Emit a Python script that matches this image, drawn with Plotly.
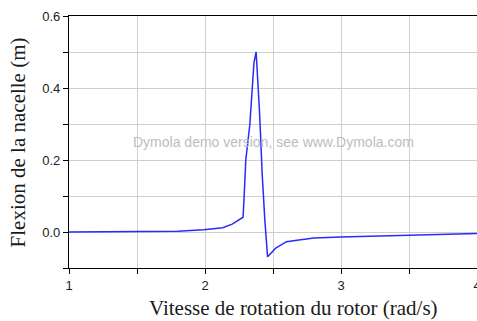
import plotly.graph_objects as go

# Rotor speed (rad/s) and nacelle deflection (m)
vitesse = [1.0, 1.5, 1.8, 1.99, 2.13, 2.2, 2.28, 2.29, 2.30, 2.33, 2.35, 2.36, 2.376,
           2.39, 2.40, 2.41, 2.42, 2.44, 2.46, 2.52, 2.60, 2.69, 2.8, 3.0, 3.1, 3.3,
           3.53, 3.8, 4.0]
flexion = [0.0, 0.0, 0.002, 0.006, 0.012, 0.022, 0.041, 0.117, 0.20, 0.30, 0.42, 0.47, 0.50,
           0.42, 0.34, 0.256, 0.164, 0.033, -0.069, -0.045, -0.027, -0.022, -0.017, -0.014,
           -0.013, -0.010, -0.0075, -0.005, -0.004]

x_ticks = [1, 1.5, 2, 2.5, 3, 3.5, 4]
x_labels = ["1", "", "2", "", "3", "", "4"]
y_ticks = [-0.1, 0.0, 0.1, 0.2, 0.3, 0.4, 0.5, 0.6]
y_labels = ["", "0.0", "", "0.2", "", "0.4", "", "0.6"]

fig = go.Figure()
fig.add_trace(go.Scatter(
    x=vitesse, y=flexion, mode="lines",
    line=dict(color="#2a2aff", width=1.5),
    showlegend=False, hoverinfo="skip",
))

grid = "#cfcfcf"
tick_font = dict(family="Liberation Sans, Arial, sans-serif", size=13, color="#222222")
title_font = dict(family="Liberation Serif, Times New Roman, serif", size=21, color="#1a1a1a")

fig.update_xaxes(
    range=[1, 4], tickmode="array", tickvals=x_ticks, ticktext=x_labels,
    showgrid=True, gridcolor=grid, gridwidth=1,
    showline=True, linecolor="black", linewidth=1.2, mirror=True,
    ticks="outside", ticklen=5, tickcolor="black", tickfont=tick_font,
    ticklabeloverflow="allow", automargin=False,
    zeroline=False,
)
fig.update_yaxes(
    range=[-0.1, 0.6], tickmode="array", tickvals=y_ticks, ticktext=y_labels,
    showgrid=True, gridcolor=grid, gridwidth=1,
    showline=True, linecolor="black", linewidth=1.2,
    ticks="outside", ticklen=5, tickcolor="black", tickfont=tick_font,
    automargin=False, zeroline=False,
)

# Axis titles
fig.add_annotation(
    text="Vitesse de rotation du rotor (rad/s)",
    xref="paper", yref="paper", x=0.551, y=-0.158,
    xanchor="center", yanchor="middle", showarrow=False, font=title_font,
)
fig.add_annotation(
    text="Flexion de la nacelle (m)", textangle=-90,
    xref="paper", yref="paper", x=-0.124, y=0.50,
    xanchor="center", yanchor="middle", showarrow=False, font=title_font,
)

fig.add_annotation(
    text="Dymola demo version, see www.Dymola.com",
    xref="paper", yref="paper", x=0.5, y=0.5, showarrow=False,
    font=dict(family="Liberation Sans, Arial, sans-serif", size=14, color="#bdbdbd"),
)

fig.update_layout(
    width=477, height=321,
    margin=dict(l=69, r=0, t=16, b=53),
    paper_bgcolor="white", plot_bgcolor="white",
)

fig.write_html("out.html")
